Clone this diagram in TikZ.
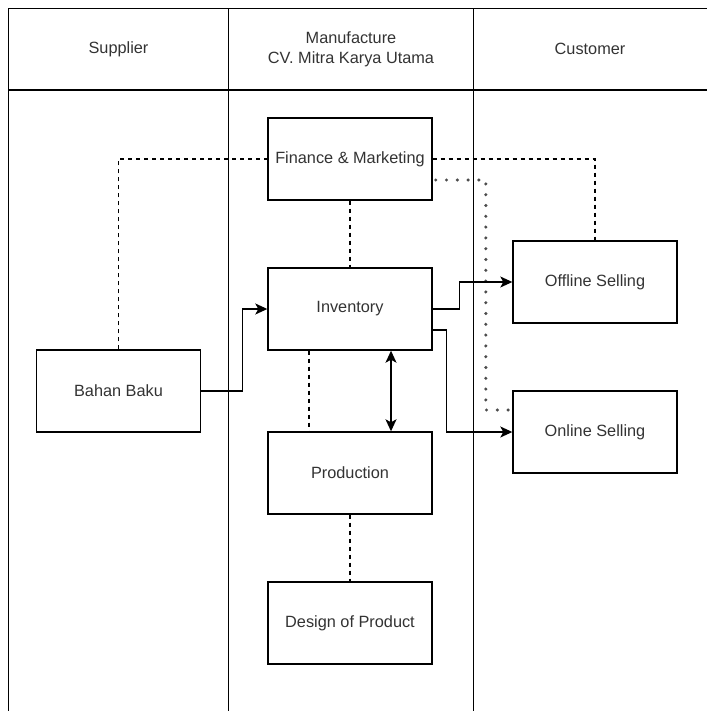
\documentclass[tikz,border=0pt]{standalone}
\usepackage{fontspec}
\setmainfont{Liberation Sans}
\usetikzlibrary{calc,arrows.meta}

\tikzset{
  lane/.style={line width=1.4pt, draw=black},
  box/.style={draw=black, line width=1.4pt, fill=white,
    minimum width=164pt, minimum height=82pt, inner sep=0pt,
    text=black!80, font=\fontsize{16.3}{19.6}\selectfont},
  lanetitle/.style={text=black!80, align=center, inner sep=0pt,
    font=\fontsize{16.3}{19.6}\selectfont},
  dashlink/.style={line width=1.3pt, dash pattern=on 4pt off 4pt},
  dotlink/.style={line width=3.4pt, draw=black!70, line cap=round,
    dash pattern=on 0pt off 10.8pt},
  flow/.style={line width=1.4pt, -{Stealth[length=12pt,width=11pt,inset=3pt]}},
  flowboth/.style={line width=1.4pt,
    {Stealth[length=12pt,width=11pt,inset=3pt]}-{Stealth[length=12pt,width=11pt,inset=3pt]}}
}

\begin{document}
\begin{tikzpicture}[x=1pt, y=-1pt]
  \useasboundingbox (0,0) rectangle (707,711);

  % swimlane frame
  \draw[lane] (8.5,711) -- (8.5,8.5) -- (707,8.5);
  \draw[lane] (8.5,90) -- (707,90);
  \draw[lane] (228.5,8.5) -- (228.5,711);
  \draw[lane] (473.5,8.5) -- (473.5,711);

  % lane titles
  \node[lanetitle] (tsup) at (118.5,49) {Supplier};
  \node[lanetitle] (tman) at (351,49) {Manufacture\\CV. Mitra Karya Utama};
  \node[lanetitle] (tcus) at (590,49) {Customer};

  % process boxes
  \node[box] (fin)     at (350,159) {Finance \& Marketing};
  \node[box] (inv)     at (350,309) {Inventory};
  \node[box] (prod)    at (350,473) {Production};
  \node[box] (design)  at (350,623) {Design of Product};
  \node[box] (bahan)   at (118.5,391) {Bahan Baku};
  \node[box] (offline) at (595,282) {Offline Selling};
  \node[box] (online)  at (595,432) {Online Selling};

  % information links
  \draw[dashlink] (bahan.north) |- (fin.west);
  \draw[dashlink] (fin.east) -| (offline.north);
  \draw[dashlink] (fin.south) -- (inv.north);
  \draw[dashlink] ($(inv.south)+(-41,0)$) -- ($(prod.north)+(-41,0)$);
  \draw[dashlink] (prod.south) -- (design.north);
  \draw[dotlink] ($(fin.east)+(3,21)$) -| ($(online.west)+(-26.5,-22)$) -- ($(online.west)+(-4,-22)$);

  % material flow
  \draw[flow] (bahan.east) -- ++(41,0) |- (inv.west);
  \draw[flow] (inv.east) -- ++(27,0) |- (offline.west);
  \draw[flow] ($(inv.east)+(0,21)$) -- ++(14,0) |- (online.west);
  \draw[flowboth] ($(inv.south)+(41,0)$) -- ($(prod.north)+(41,0)$);
\end{tikzpicture}
\end{document}
